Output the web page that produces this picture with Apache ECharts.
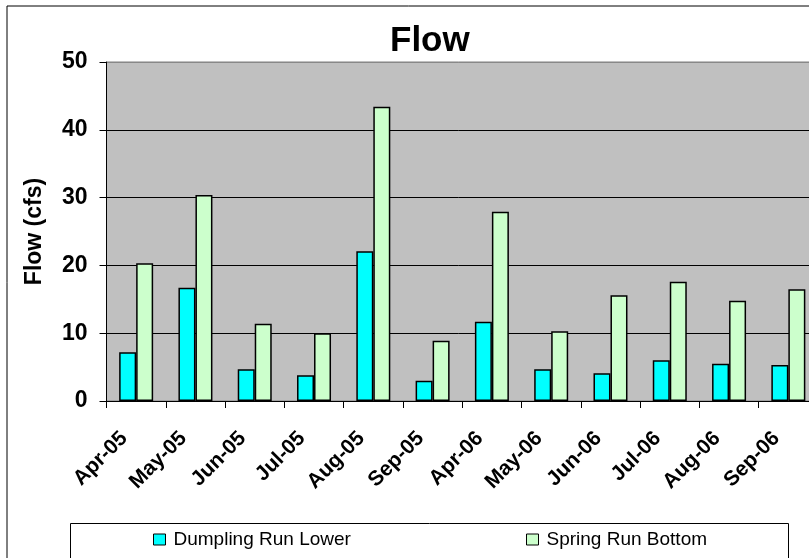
<!DOCTYPE html>
<html>
<head>
<meta charset="utf-8">
<script src="https://cdn.jsdelivr.net/npm/echarts@6/dist/echarts.min.js"></script>
<style>
  html, body { margin: 0; padding: 0; background: #fff; }
  #chart { width: 809px; height: 558px; }
</style>
</head>
<body>
<div id="chart"></div>
<script>
var categories = ['Apr-05', 'May-05', 'Jun-05', 'Jul-05', 'Aug-05', 'Sep-05',
                  'Apr-06', 'May-06', 'Jun-06', 'Jul-06', 'Aug-06', 'Sep-06'];
var dumplingRunLower = [7.2, 16.7, 4.7, 3.8, 22.1, 3.0, 11.7, 4.7, 4.1, 6.0, 5.5, 5.3];
var springRunBottom  = [20.3, 30.4, 11.4, 10.0, 43.4, 8.9, 27.9, 10.3, 15.6, 17.6, 14.8, 16.5];
var yTicks = { min: 0, max: 50, interval: 10 };

var FONT = '"Liberation Sans", Arial, sans-serif';
var chart = echarts.init(document.getElementById('chart'), null, { renderer: 'canvas' });

chart.setOption({
  backgroundColor: '#ffffff',
  animation: false,
  title: {
    text: 'Flow',
    left: 385,
    top: 19,
    textStyle: { fontFamily: FONT, fontSize: 35, fontWeight: 'bold', color: '#000' }
  },
  graphic: [
    { type: 'rect', silent: true, z: -10,
      shape: { x: 7, y: 6, width: 900, height: 700 },
      style: { fill: 'none', stroke: '#000', lineWidth: 1 } },
    { type: 'rect', silent: true, z: -5,
      shape: { x: 70.5, y: 523.5, width: 718, height: 80 },
      style: { fill: 'none', stroke: '#000', lineWidth: 1 } }
  ],
  legend: [
    {
      data: ['Dumpling Run Lower'],
      left: 153, top: 530, padding: 0,
      icon: 'rect',
      itemWidth: 12, itemHeight: 11,
      itemStyle: { borderColor: '#000', borderWidth: 1 },
      textStyle: { fontFamily: FONT, fontSize: 19, color: '#000', padding: [0, 0, 0, 3] }
    },
    {
      data: ['Spring Run Bottom'],
      left: 526, top: 530, padding: 0,
      icon: 'rect',
      itemWidth: 12, itemHeight: 11,
      itemStyle: { borderColor: '#000', borderWidth: 1 },
      textStyle: { fontFamily: FONT, fontSize: 19, color: '#000', padding: [0, 0, 0, 3] }
    }
  ],
  grid: {
    left: 106.5, top: 62, height: 339, width: 711.5,
    containLabel: false,
    outerBoundsMode: 'none',
    show: true, backgroundColor: '#C0C0C0', borderColor: '#808080', borderWidth: 1
  },
  xAxis: {
    type: 'category',
    data: categories,
    axisLine: { lineStyle: { color: '#000', width: 1 } },
    axisTick: { show: true, length: 7, lineStyle: { color: '#000' } },
    axisLabel: {
      interval: 0, rotate: 45, margin: 22,
      fontFamily: FONT, fontSize: 21, fontWeight: 'bold', color: '#000',
      padding: [0, 17, 0, 0]
    }
  },
  yAxis: {
    type: 'value',
    min: yTicks.min, max: yTicks.max, interval: yTicks.interval,
    name: 'Flow (cfs)',
    nameLocation: 'middle',
    nameGap: 60,
    nameTextStyle: { fontFamily: FONT, fontSize: 23, fontWeight: 'bold', color: '#000' },
    axisLine: { show: true, lineStyle: { color: '#000', width: 1 } },
    axisTick: { show: true, length: 7, lineStyle: { color: '#000' } },
    axisLabel: { margin: 19, fontFamily: FONT, fontSize: 23, fontWeight: 'bold', color: '#000' },
    splitLine: { show: true, lineStyle: { color: ['#000', '#000', '#000', '#000', '#000', '#888'], width: 1 } }
  },
  series: [
    {
      name: 'Dumpling Run Lower',
      type: 'bar',
      data: dumplingRunLower,
      barWidth: 17,
      barGap: '0%',
      itemStyle: { color: '#00FFFF', borderColor: '#000', borderWidth: 1.5 }
    },
    {
      name: 'Spring Run Bottom',
      type: 'bar',
      data: springRunBottom,
      barWidth: 17,
      barGap: '0%',
      itemStyle: { color: '#CCFFCC', borderColor: '#000', borderWidth: 1.5 }
    }
  ]
});
</script>
</body>
</html>
